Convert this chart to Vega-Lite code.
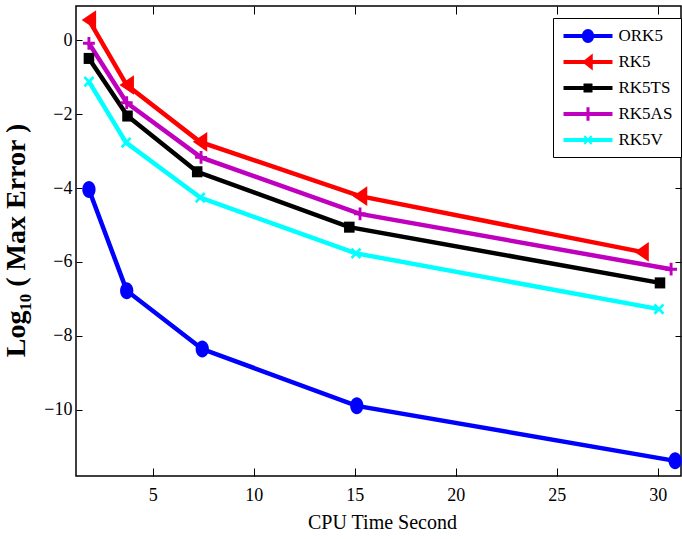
{
  "$schema": "https://vega.github.io/schema/vega-lite/v6.json",
  "width": 605,
  "height": 470,
  "autosize": {"type": "none"},
  "padding": {"left": 76, "top": 6, "right": 1, "bottom": 63},
  "background": "white",
  "config": {
    "view": {"stroke": "black", "strokeWidth": 1.5},
    "font": "Liberation Serif",
    "axis": {
      "labelFont": "Liberation Serif",
      "labelFontSize": 18,
      "labelColor": "black",
      "tickColor": "black",
      "tickWidth": 1,
      "grid": false,
      "domain": false,
      "titleFont": "Liberation Serif",
      "titleColor": "black"
    }
  },
  "data": {
    "values": [
      {"method": "ORK5", "t": 1.84, "err": -4.04},
      {"method": "ORK5", "t": 3.71, "err": -6.78},
      {"method": "ORK5", "t": 7.45, "err": -8.36},
      {"method": "ORK5", "t": 15.1, "err": -9.9},
      {"method": "ORK5", "t": 30.86, "err": -11.39},
      {"method": "RK5", "t": 1.84, "err": 0.55},
      {"method": "RK5", "t": 3.71, "err": -1.21},
      {"method": "RK5", "t": 7.34, "err": -2.75},
      {"method": "RK5", "t": 15.26, "err": -4.22},
      {"method": "RK5", "t": 29.2, "err": -5.73},
      {"method": "RK5TS", "t": 1.84, "err": -0.49},
      {"method": "RK5TS", "t": 3.75, "err": -2.05},
      {"method": "RK5TS", "t": 7.2, "err": -3.56},
      {"method": "RK5TS", "t": 14.73, "err": -5.06},
      {"method": "RK5TS", "t": 30.11, "err": -6.57},
      {"method": "RK5AS", "t": 1.84, "err": -0.08},
      {"method": "RK5AS", "t": 3.71, "err": -1.69},
      {"method": "RK5AS", "t": 7.39, "err": -3.17},
      {"method": "RK5AS", "t": 15.26, "err": -4.7},
      {"method": "RK5AS", "t": 30.66, "err": -6.2},
      {"method": "RK5V", "t": 1.84, "err": -1.12},
      {"method": "RK5V", "t": 3.68, "err": -2.77},
      {"method": "RK5V", "t": 7.35, "err": -4.26},
      {"method": "RK5V", "t": 15.06, "err": -5.77},
      {"method": "RK5V", "t": 30.06, "err": -7.28}
    ]
  },
  "layer": [
    {
      "mark": {"type": "line", "strokeWidth": 4.5},
      "encoding": {
        "x": {
          "field": "t", "type": "quantitative",
          "scale": {"domain": [1.2, 31.15], "nice": false, "zero": false},
          "axis": {
            "orient": "bottom", "values": [5, 10, 15, 20, 25, 30],
            "tickSize": -8, "labelPadding": 18,
            "title": "CPU Time Second", "titleFontSize": 20, "titleFontWeight": "normal",
            "titleX": 306, "titleY": 36
          }
        },
        "y": {
          "field": "err", "type": "quantitative",
          "scale": {"domain": [-11.8, 0.93], "nice": false, "zero": false},
          "axis": {
            "orient": "left", "values": [-10, -8, -6, -4, -2, 0],
            "tickSize": -6, "labelPadding": 10,
            "title": "Log₁₀ ( Max Error )", "titleFontSize": 28, "titleFontWeight": "bold",
            "titleX": -46, "titleY": 234
          }
        },
        "color": {
          "field": "method", "type": "nominal",
          "scale": {"domain": ["ORK5", "RK5", "RK5TS", "RK5AS", "RK5V"], "range": ["#0000ff", "#ff0000", "#000000", "#bf00bf", "#00ffff"]},
          "legend": null
        }
      }
    },
    {
      "mark": {"type": "point", "filled": true, "size": 289, "opacity": 1, "strokeWidth": 0},
      "encoding": {
        "x": {"field": "t", "type": "quantitative", "scale": {"domain": [1.2, 31.15], "nice": false, "zero": false}, "axis": null},
        "y": {"field": "err", "type": "quantitative", "scale": {"domain": [-11.8, 0.93], "nice": false, "zero": false}, "axis": null},
        "color": {
          "field": "method", "type": "nominal",
          "scale": {"domain": ["ORK5", "RK5", "RK5TS", "RK5AS", "RK5V"], "range": ["#0000ff", "#ff0000", "#000000", "#bf00bf", "#00ffff"]},
          "legend": null
        },
        "shape": {
          "field": "method", "type": "nominal",
          "scale": {
            "domain": ["ORK5", "RK5", "RK5TS", "RK5AS", "RK5V"],
            "range": [
              "M-0.78,0A0.78,1 0 1,1 0.78,0A0.78,1 0 1,1 -0.78,0Z",
              "M-0.85,0L0.85,-1.15L0.85,1.15Z",
              "M-0.62,-0.65H0.62V0.65H-0.62Z",
              "M-0.7,-0.17H-0.17V-0.75H0.17V-0.17H0.7V0.17H0.17V0.75H-0.17V0.17H-0.7Z",
              "M0,-0.22L0.42,-0.66L0.64,-0.44L0.22,0L0.64,0.44L0.42,0.66L0,0.22L-0.42,0.66L-0.64,0.44L-0.22,0L-0.64,-0.44L-0.42,-0.66Z"
            ]
          },
          "legend": null
        }
      }
    },
    {
      "transform": [{"filter": "datum.t < 0"}],
      "mark": {"type": "point", "filled": true, "size": 289, "opacity": 1, "strokeWidth": 0},
      "encoding": {
        "x": {"field": "t", "type": "quantitative", "scale": {"domain": [1.2, 31.15], "nice": false, "zero": false}, "axis": null},
        "y": {"field": "err", "type": "quantitative", "scale": {"domain": [-11.8, 0.93], "nice": false, "zero": false}, "axis": null},
        "color": {
          "field": "method", "type": "nominal",
          "scale": {"domain": ["ORK5", "RK5", "RK5TS", "RK5AS", "RK5V"], "range": ["#0000ff", "#ff0000", "#000000", "#bf00bf", "#00ffff"]},
          "legend": {
            "title": null, "orient": "none", "legendX": 477, "legendY": 12,
            "padding": 8.5, "strokeColor": "black", "fillColor": "white",
            "labelFont": "Liberation Serif", "labelFontSize": 17, "labelColor": "black",
            "symbolSize": 289, "symbolOffset": 17, "labelOffset": 21, "rowPadding": 8
          }
        },
        "shape": {
          "field": "method", "type": "nominal",
          "scale": {
            "domain": ["ORK5", "RK5", "RK5TS", "RK5AS", "RK5V"],
            "range": [
              "M-2.88,-0.24H2.88V0.24H-2.88Z M-0.72,0A0.72,0.82 0 1,1 0.72,0A0.72,0.82 0 1,1 -0.72,0Z",
              "M-2.88,-0.24H2.88V0.24H-2.88Z M-0.7,0L0.56,-1L0.56,1Z",
              "M-2.88,-0.24H2.88V0.24H-2.88Z M-0.53,-0.53H0.53V0.53H-0.53Z",
              "M-2.88,-0.24H2.88V0.24H-2.88Z M-0.18,-0.8H0.18V0.8H-0.18Z",
              "M-2.88,-0.24H2.88V0.24H-2.88Z M0,-0.18L0.34,-0.55L0.52,-0.37L0.18,0L0.52,0.37L0.34,0.55L0,0.18L-0.34,0.55L-0.52,0.37L-0.18,0L-0.52,-0.37L-0.34,-0.55Z"
            ]
          },
          "legend": {
            "title": null, "orient": "none", "legendX": 477, "legendY": 12,
            "padding": 8.5, "strokeColor": "black", "fillColor": "white",
            "labelFont": "Liberation Serif", "labelFontSize": 17, "labelColor": "black",
            "symbolSize": 289, "symbolOffset": 17, "labelOffset": 21, "rowPadding": 8
          }
        }
      }
    },
    {
      "mark": {"type": "point", "opacity": 0},
      "encoding": {
        "x": {
          "field": "t", "type": "quantitative",
          "scale": {"domain": [1.2, 31.15], "nice": false, "zero": false},
          "axis": {"orient": "top", "values": [5, 10, 15, 20, 25, 30], "tickSize": -8, "labels": false, "title": null}
        },
        "y": {
          "field": "err", "type": "quantitative",
          "scale": {"domain": [-11.8, 0.93], "nice": false, "zero": false},
          "axis": {"orient": "right", "values": [-10, -8, -6, -4, -2, 0], "tickSize": -6, "labels": false, "title": null}
        }
      }
    }
  ],
  "resolve": {
    "axis": {"x": "independent", "y": "independent"},
    "scale": {"shape": "independent"},
    "legend": {"color": "independent", "shape": "independent"}
  }
}
